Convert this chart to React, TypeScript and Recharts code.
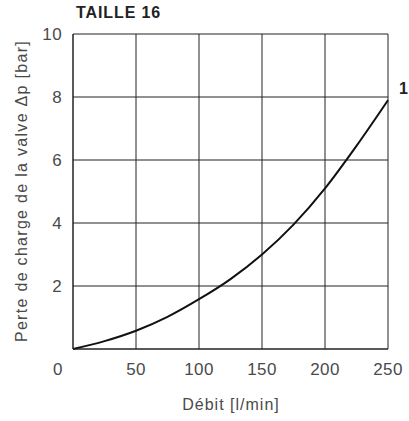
import { LineChart, Line, XAxis, YAxis, CartesianGrid, Label, LabelList } from "recharts";

// flow [l/min] vs pressure drop [bar]
const flow = [0, 25, 50, 75, 100, 125, 150, 175, 200, 225, 250];
const dp = [0, 0.25, 0.58, 1.02, 1.58, 2.22, 3.0, 3.95, 5.1, 6.45, 7.9];
const xTicks = [0, 50, 100, 150, 200, 250];
const yTicks = [2, 4, 6, 8, 10];
const curveName = "1";

const data = flow.map((q, i) => ({ q, dp: dp[i] }));

const FONT = "'Liberation Sans', Arial, Helvetica, sans-serif";
const INK = "#222";
const TXT = "#4a4a4a";

function XTick({ x, y, payload }: any) {
  // the "0" sits at the corner, pulled left of the origin
  const dx = payload.value === 0 ? -15 : 0;
  return (
    <text x={x + dx} y={y + 26} textAnchor="middle" fontSize={17} fill={TXT} fontFamily={FONT} letterSpacing={0.4}>
      {payload.value}
    </text>
  );
}

function YTick({ x, y, payload }: any) {
  return (
    <text x={x - 11} y={y + 6} textAnchor="end" fontSize={17} fill={TXT} fontFamily={FONT} letterSpacing={0.4}>
      {payload.value}
    </text>
  );
}

export default function App() {
  return (
    <div style={{ position: "absolute", left: 0, top: 0, width: 409, height: 421, background: "#fff" }}>
      <div style={{ position: "absolute", left: 76, top: 4, fontFamily: FONT, fontWeight: 700, fontSize: 16, letterSpacing: 0.9, color: INK, lineHeight: "18px" }}>
        TAILLE 16
      </div>
      <LineChart width={409} height={421} data={data} margin={{ top: 34, right: 21, left: 0, bottom: 0 }}>
        <CartesianGrid stroke={INK} strokeWidth={1} />
        <XAxis
          dataKey="q"
          type="number"
          domain={[0, 250]}
          ticks={xTicks}
          interval={0}
          tickLine={false}
          tickSize={0}
          tickMargin={0}
          axisLine={{ stroke: INK }}
          height={72}
          tick={<XTick />}
        >
          <Label
            content={() => (
              <text x={231} y={410} textAnchor="middle" fontSize={16} fill={TXT} fontFamily={FONT} letterSpacing={1}>
                Débit [l/min]
              </text>
            )}
          />
        </XAxis>
        <YAxis
          type="number"
          domain={[0, 10]}
          ticks={yTicks}
          interval={0}
          tickLine={false}
          tickSize={0}
          tickMargin={0}
          axisLine={{ stroke: INK }}
          width={73}
          tick={<YTick />}
        >
          <Label
            content={() => (
              <text
                x={27}
                y={191}
                transform="rotate(-90 27 191)"
                textAnchor="middle"
                fontSize={16}
                fill={TXT}
                fontFamily={FONT}
                letterSpacing={1.3}
              >
                Perte de charge de la valve Δp [bar]
              </text>
            )}
          />
        </YAxis>
        <Line type="monotone" dataKey="dp" stroke="#111" strokeWidth={2} dot={false} isAnimationActive={false}>
          <LabelList
            dataKey="dp"
            content={(p: any) =>
              p.index === data.length - 1 ? (
                <text x={p.x + 11} y={p.y - 6} fontSize={16} fontWeight={700} fill={INK} fontFamily={FONT}>
                  {curveName}
                </text>
              ) : null
            }
          />
        </Line>
      </LineChart>
    </div>
  );
}
